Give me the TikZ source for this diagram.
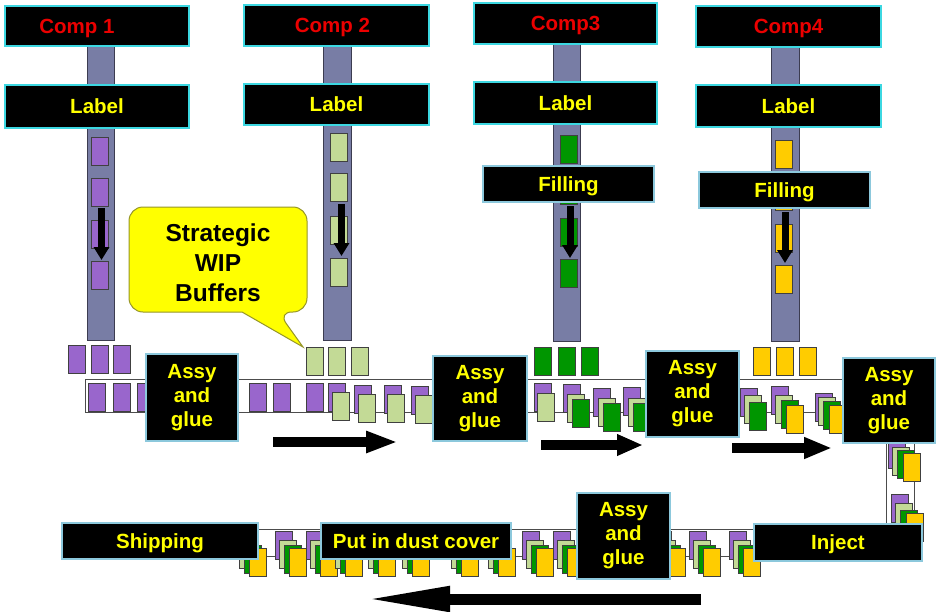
\documentclass[tikz,border=0pt]{standalone}
\usepackage{fontspec}
\setmainfont{Liberation Sans}
\usetikzlibrary{arrows.meta}
\definecolor{pur}{RGB}{153,102,204}
\definecolor{lgr}{RGB}{195,218,150}
\definecolor{dgr}{RGB}{0,150,0}
\definecolor{yel}{RGB}{255,204,0}
\definecolor{barc}{RGB}{120,125,165}
\definecolor{bard}{RGB}{60,60,80}
\definecolor{cyanb}{RGB}{60,215,225}
\definecolor{lblue}{RGB}{140,200,220}
\definecolor{txtred}{RGB}{235,0,0}
\definecolor{txtyel}{RGB}{255,255,0}
\definecolor{callfill}{RGB}{255,255,0}
\definecolor{calldraw}{RGB}{150,150,40}
\tikzset{
  itm/.style={draw=black!75, line width=0.8pt},
  pu/.style={itm, fill=pur},
  lg/.style={itm, fill=lgr},
  gr/.style={itm, fill=dgr},
  ye/.style={itm, fill=yel},
  conv/.style={draw=black!70, line width=0.9pt},
  barstyle/.style={fill=barc, draw=bard, line width=0.9pt},
  blk/.style={fill=black, line width=2pt, inner sep=0pt, align=center,
    font=\fontsize{20.5}{24}\selectfont\bfseries, text=txtyel},
  oneline/.style={text depth=0pt},
  compbox/.style={blk, oneline, draw=cyanb, text=txtred},
  labbox/.style={blk, oneline, draw=cyanb},
  opbox/.style={blk, draw=lblue},
  opline/.style={blk, oneline, draw=lblue},
  downarr/.style={line width=7pt, -{Triangle[width=15pt,length=13pt]}},
}
\newcommand\drawitem[3]{\path[#1] (#2,#3) rectangle ++(17,28);}
\newcommand\botgroup[1]{\drawitem{pu}{#1-14}{531}\drawitem{lg}{#1-10}{540}\drawitem{gr}{#1-5}{545}\drawitem{ye}{#1}{548}}
\begin{document}
\begin{tikzpicture}[x=1pt,y=-1pt]
\useasboundingbox (0,0) rectangle (940,611);
\fill[white] (0,0) rectangle (940,611);

% conveyor lines
\draw[conv] (843,379) -- (85,379) -- (85,412) -- (843,412);
\draw[conv] (886,443) -- (886,524);
\draw[conv] (914,443) -- (914,524);
\draw[conv] (258,529) -- (755,529);
\draw[conv] (258,556) -- (755,556);

% vertical feeder bars
\path[barstyle] (87,46) rectangle (114,340);
\path[barstyle] (323,46) rectangle (351,340);
\path[barstyle] (553,44) rectangle (580,341);
\path[barstyle] (771,47) rectangle (799,341);

% items on bars
\drawitem{pu}{91}{137}\drawitem{pu}{91}{178}\drawitem{pu}{91}{220}\drawitem{pu}{91}{261}
\drawitem{lg}{330}{133}\drawitem{lg}{330}{173}\drawitem{lg}{330}{216}\drawitem{lg}{330}{258}
\drawitem{gr}{560}{135}\drawitem{gr}{560}{176}\drawitem{gr}{560}{218}\drawitem{gr}{560}{259}
\drawitem{ye}{775}{140}\drawitem{ye}{775}{182}\drawitem{ye}{775}{224}\drawitem{ye}{775}{265}

% down arrows
\coordinate (d1a) at (101.5,208); \coordinate (d1b) at (101.5,260);
\coordinate (d2a) at (341.5,204); \coordinate (d2b) at (341.5,256);
\coordinate (d3a) at (570,206);   \coordinate (d3b) at (570,258);
\coordinate (d4a) at (785,212);   \coordinate (d4b) at (785,263);
\draw[downarr] (d1a) -- (d1b);
\draw[downarr] (d2a) -- (d2b);
\draw[downarr] (d3a) -- (d3b);
\draw[downarr] (d4a) -- (d4b);

% comp and label boxes
\node[compbox, minimum width=184pt, minimum height=40pt] (c1) at (97,26) {Comp 1\hspace*{40pt}};
\node[compbox, minimum width=185pt, minimum height=41pt] (c2) at (336.5,25.5) {Comp 2\hspace*{8pt}};
\node[compbox, minimum width=183pt, minimum height=41pt] (c3) at (565.5,23.5) {Comp3};
\node[compbox, minimum width=185pt, minimum height=41pt] (c4) at (788.5,26.5) {Comp4};
\node[labbox, minimum width=184pt, minimum height=43pt] (l1) at (97,106.5) {Label};
\node[labbox, minimum width=185pt, minimum height=41pt] (l2) at (336.5,104.5) {Label};
\node[labbox, minimum width=183pt, minimum height=42pt] (l3) at (565.5,103) {Label};
\node[labbox, minimum width=185pt, minimum height=42pt] (l4) at (788.5,106) {Label};
\node[opline, minimum width=171pt, minimum height=36pt] (f3) at (568.5,184) {Filling};
\node[opline, minimum width=171pt, minimum height=36pt] (f4) at (784.5,190) {Filling};

% buffer items above the main conveyor
\drawitem{pu}{68}{345}\drawitem{pu}{91}{345}\drawitem{pu}{113}{345}
\drawitem{lg}{306}{347}\drawitem{lg}{328}{347}\drawitem{lg}{351}{347}
\drawitem{gr}{534}{347}\drawitem{gr}{558}{347}\drawitem{gr}{581}{347}
\drawitem{ye}{753}{347}\drawitem{ye}{776}{347}\drawitem{ye}{799}{347}

% segment 1
\drawitem{pu}{88}{383}\drawitem{pu}{113}{383}\drawitem{pu}{137}{383}
% segment 2
\drawitem{pu}{249}{383}\drawitem{pu}{273}{383}\drawitem{pu}{306}{383}
\drawitem{pu}{328}{383}\drawitem{lg}{332}{392}
\drawitem{pu}{354}{385}\drawitem{lg}{358}{394}
\drawitem{pu}{384}{385}\drawitem{lg}{387}{394}
\drawitem{pu}{411}{386}\drawitem{lg}{415}{395}
% segment 3
\drawitem{pu}{534}{383}\drawitem{lg}{537}{393}
\drawitem{pu}{563}{384}\drawitem{lg}{567}{394}\drawitem{gr}{572}{399}
\drawitem{pu}{593}{388}\drawitem{lg}{598}{398}\drawitem{gr}{603}{403}
\drawitem{pu}{623}{387}\drawitem{lg}{628}{398}\drawitem{gr}{633}{403}
% segment 4
\drawitem{pu}{740}{388}\drawitem{lg}{744}{395}\drawitem{gr}{749}{402}
\drawitem{pu}{771}{386}\drawitem{lg}{775}{395}\drawitem{gr}{781}{400}\drawitem{ye}{786}{405}
\drawitem{pu}{815}{393}\drawitem{lg}{818}{397}\drawitem{gr}{823}{401}\drawitem{ye}{829}{405}
% right vertical conveyor
\drawitem{pu}{888}{440}\drawitem{lg}{892}{447}\drawitem{gr}{897}{450}\drawitem{ye}{903}{453}
\drawitem{pu}{891}{494}\drawitem{lg}{895}{503}\drawitem{gr}{900}{510}\drawitem{ye}{906}{513}
% bottom conveyor
\botgroup{249}\botgroup{289}\botgroup{320}\botgroup{345}\botgroup{378}
\botgroup{412}\botgroup{461}\botgroup{498}\botgroup{536}\botgroup{567}
\botgroup{668}\botgroup{703}\botgroup{743}

% operation boxes
\node[opbox, minimum width=92pt, minimum height=87pt] (a1) at (192,397.5) {Assy\\and\\glue};
\node[opbox, minimum width=94pt, minimum height=85pt] (a2) at (480,398.5) {Assy\\and\\glue};
\node[opbox, minimum width=93pt, minimum height=86pt] (a3) at (692.5,394) {Assy\\and\\glue};
\node[opbox, minimum width=92pt, minimum height=85pt] (a4) at (889,400.5) {Assy\\and\\glue};
\node[opbox, minimum width=93pt, minimum height=86pt] (a5) at (623.5,536) {Assy\\and\\glue};
\node[opline, minimum width=196pt, minimum height=36pt] (ship) at (160,541) {Shipping};
\node[opline, minimum width=190pt, minimum height=36pt] (dust) at (416,541) {Put in dust cover};
\node[opline, minimum width=168pt, minimum height=37pt] (inj) at (838,542.5) {Inject};

% callout
\draw[fill=callfill, draw=calldraw, line width=1pt, rounded corners=14pt]
  (218,207) -- (307,207) -- (307,312) -- (278,312) [sharp corners] -- (303,347)
  -- (242,312) [rounded corners=14pt] -- (129,312) -- (129,207) -- cycle;
\node[font=\fontsize{24.5}{30}\selectfont\bfseries, align=center, inner sep=0pt] (wip) at (218,262.5) {Strategic\\WIP\\Buffers};

% flow arrows
\coordinate (h1a) at (273,442); \coordinate (h1b) at (398,442);
\coordinate (h2a) at (541,445); \coordinate (h2b) at (643,445);
\coordinate (h3a) at (732,448); \coordinate (h3b) at (832,448);
\coordinate (h4a) at (701,599); \coordinate (h4b) at (363,599);
\draw[line width=10pt, -{Triangle[width=20pt,length=32pt]}] (h1a) -- (h1b);
\draw[line width=10pt, -{Triangle[width=20pt,length=26pt]}] (h2a) -- (h2b);
\draw[line width=10pt, -{Triangle[width=20pt,length=28pt]}] (h3a) -- (h3b);
\draw[line width=11pt, -{Triangle[width=23pt,length=87pt]}] (h4a) -- (h4b);
\end{tikzpicture}
\end{document}
